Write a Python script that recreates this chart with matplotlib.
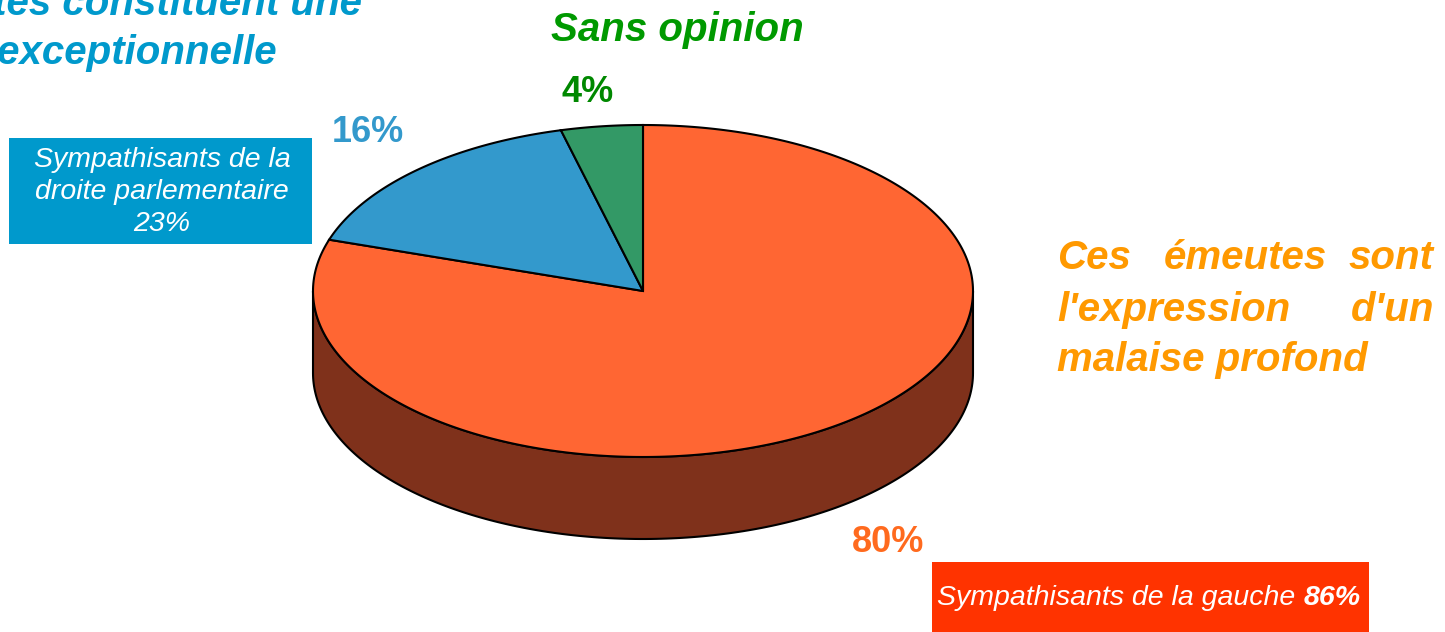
import matplotlib.pyplot as plt
import numpy as np
from matplotlib.patches import Polygon, Rectangle

plt.rcParams['font.family'] = ['Liberation Sans', 'DejaVu Sans']

# data
labels = ['Ces émeutes sont l\'expression d\'un malaise profond', 'Ces émeutes constituent une violence exceptionnelle', 'Sans opinion']
values = [80, 16, 4]
value_labels = ['80%', '16%', '4%']
top_colors = ['#FF6633', '#3399CC', '#339966']
side_colors = ['#7F311B', '#1F5F80', '#1F5F40']
text_colors = ['#FF6A1E', '#3399CC', '#008800']

fig = plt.figure(figsize=(14.45, 6.32), dpi=100)
ax = fig.add_axes([0, 0, 1, 1])
ax.set_xlim(0, 1445)
ax.set_ylim(632, 0)
ax.axis('off')

cx, cy, rx, ry, depth = 643, 291, 330, 166, 82

def pt(t, dy=0):
    t = np.radians(t)
    return np.column_stack([cx + rx * np.cos(t), cy - ry * np.sin(t) + dy])

# slice angles, clockwise from 12 o'clock
fr = np.array(values) / sum(values)
cum = np.concatenate([[0], np.cumsum(fr)])
starts = 90 - 360 * cum[:-1]
ends = 90 - 360 * cum[1:]

# side wall (front half only)
for s, e, col in zip(starts, ends, side_colors):
    a0, a1 = max(e, -180), min(s, 0)
    if a1 <= a0:
        continue
    t = np.linspace(a1, a0, 200)
    top = pt(t)
    bot = pt(t[::-1], depth)
    ax.add_patch(Polygon(np.vstack([top, bot]), closed=True, facecolor=col,
                         edgecolor='black', lw=1.5, zorder=1))

# top face
for s, e, col in zip(starts, ends, top_colors):
    t = np.linspace(s, e, 300)
    poly = np.vstack([[cx, cy], pt(t)])
    ax.add_patch(Polygon(poly, closed=True, facecolor=col, edgecolor='black',
                         lw=1.5, joinstyle='miter', zorder=2))

# percentage labels
pos = [(888, 543), (368, 133), (588, 92)]
for (x, y), lab, c in zip(pos, value_labels, text_colors):
    ax.text(x, y, lab, color=c, fontsize=26, fontweight='bold', ha='center', va='center')

# category titles
ax.text(677, 30, 'Sans opinion', color='#009900', fontsize=29, fontweight='bold',
        style='italic', ha='center', va='center')

orange = '#FF9900'
kw = dict(color=orange, fontsize=29, fontweight='bold', style='italic', va='center')
ax.text(1057, 258, 'Ces', ha='left', **kw)
ax.text(1245, 258, 'émeutes', ha='center', **kw)
ax.text(1434, 258, 'sont', ha='right', **kw)
ax.text(1057, 310, "l'expression", ha='left', **kw)
ax.text(1434, 310, "d'un", ha='right', **kw)
ax.text(1057, 360, 'malaise profond', ha='left', **kw)

kwb = dict(color='#0099CC', fontsize=29, fontweight='bold', style='italic', va='center', ha='right')
ax.text(362, 4, 'Ces émeutes constituent une', **kwb)
ax.text(277, 53, 'violence exceptionnelle', **kwb)

# boxes
ax.add_patch(Rectangle((9, 138), 303, 106, facecolor='#0099CC', edgecolor='none', zorder=3))
ax.text(162, 192, 'Sympathisants de la\ndroite parlementaire\n23%', color='white',
        fontsize=20.5, style='italic', ha='center', va='center', linespacing=1.3, zorder=4)

ax.add_patch(Rectangle((932, 562), 437, 75, facecolor='#FF3300', edgecolor='none', zorder=3))
t1 = ax.text(937, 598, 'Sympathisants de la gauche ', color='white',
             fontsize=20.5, style='italic', ha='left', va='center', zorder=4)
fig.canvas.draw()
bb = t1.get_window_extent(renderer=fig.canvas.get_renderer())
x_end = ax.transData.inverted().transform((bb.x1, bb.y0))[0]
ax.text(x_end, 598, '86%', color='white', fontsize=20.5, style='italic',
        fontweight='bold', ha='left', va='center', zorder=4)

fig.savefig('out.png', dpi=100)
